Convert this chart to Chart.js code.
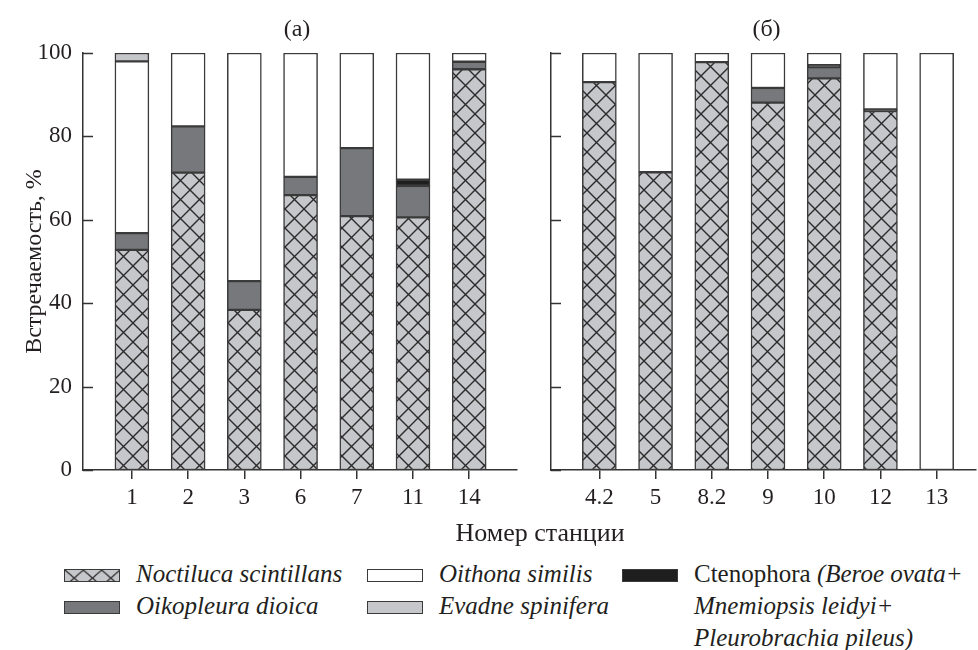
<!DOCTYPE html>
<html><head><meta charset="utf-8">
<script src="https://cdn.jsdelivr.net/npm/chart.js@4.4.1/dist/chart.umd.min.js"></script>
<style>
body{margin:0;background:#fff;width:978px;height:650px;overflow:hidden;position:relative;font-family:'Liberation Serif','Times New Roman',serif;color:#231f20}
canvas{position:absolute;top:0}
#ca{left:0}
#cb{left:530px}
#xtitle{position:absolute;left:0;width:1080px;top:518px;text-align:center;font-size:26px;line-height:30px}
.col{position:absolute;top:558px;font-size:25px;line-height:32px}
.item{position:relative;height:32px;white-space:nowrap}
.sw{position:absolute;left:0;top:11px;width:56px;height:13px;box-sizing:border-box;border:1.5px solid #3a3a3a}
.tx{position:absolute;left:72px;top:0}
i{font-style:italic}
</style>
</head><body>
<canvas id="ca" width="530" height="520"></canvas>
<canvas id="cb" width="448" height="520"></canvas>
<div id="xtitle">Номер станции</div>
<div id="legend"></div>
<script>
// ---- data ----
const stationsA = ['1','2','3','6','7','11','14'];
const stationsB = ['4.2','5','8.2','9','10','12','13'];
const seriesNames = ['Noctiluca scintillans','Oikopleura dioica','Ctenophora','Oithona similis','Evadne spinifera'];
// Panel (а)
const noctA = [52.8, 71.3, 38.4, 65.9, 60.9, 60.6, 96.1];
const oikoA = [4.0, 11.1, 6.9, 4.4, 16.3, 7.5, 1.8];
const ctenA = [0, 0, 0, 0, 0, 1.5, 0];
const oithA = [41.2, 17.6, 54.7, 29.7, 22.8, 30.4, 2.1];
const evadA = [2.0, 0, 0, 0, 0, 0, 0];
// Panel (б)
const noctB = [93.0, 71.4, 97.8, 88.1, 93.9, 86.1, 0];
const oikoB = [0, 0, 0, 3.5, 2.7, 0, 0];
const ctenB = [0, 0, 0, 0, 0.5, 0.4, 0];
const oithB = [7.0, 28.6, 2.2, 8.4, 2.9, 13.5, 100];
const evadB = [0, 0, 0, 0, 0, 0, 0];
const yTicks = [0, 20, 40, 60, 80, 100];

const FONT = "'Liberation Serif', 'Times New Roman', serif";
Chart.defaults.font.family = FONT;
Chart.defaults.color = '#231f20';

function hatch(){
  const s = 19, c = document.createElement('canvas');
  c.width = s; c.height = s;
  const g = c.getContext('2d');
  g.fillStyle = '#c6c7ca'; g.fillRect(0,0,s,s);
  g.strokeStyle = '#2b2b2b'; g.lineWidth = 1.4;
  g.beginPath();
  g.moveTo(-2,-2); g.lineTo(s+2,s+2);
  g.moveTo(s+2,-2); g.lineTo(-2,s+2);
  g.stroke();
  return g.createPattern(c,'repeat');
}
const fills = [hatch(), '#77787b', '#1e1e1e', '#ffffff', '#c6c7ca'];

const inwardTicks = {
  id: 'inwardTicks',
  afterDraw(chart){
    const {ctx, chartArea: a, scales: {y}} = chart;
    ctx.save(); ctx.strokeStyle = '#333'; ctx.lineWidth = 1.5;
    y.ticks.forEach(t => {
      const py = Math.round(y.getPixelForValue(t.value)) + 0.5;
      ctx.beginPath(); ctx.moveTo(a.left, py); ctx.lineTo(a.left + 10, py); ctx.stroke();
    });
    ctx.restore();
  }
};
const panelTitle = {
  id: 'panelTitle',
  afterDraw(chart, args, o){
    const {ctx, chartArea: a} = chart;
    ctx.save(); ctx.font = '24px ' + FONT; ctx.fillStyle = '#231f20';
    ctx.textAlign = 'center'; ctx.textBaseline = 'alphabetic';
    ctx.fillText(o.text, (a.left + a.right) / 2 + o.dx, 36);
    ctx.restore();
  }
};

function makePanel(id, labels, cols, o){
  const datasets = cols.map((vals, k) => ({
    label: seriesNames[k],
    data: vals.map((v, i) => ({x: i + 1, y: v > 0 ? v : null})),
    backgroundColor: fills[k],
    borderColor: '#3a3a3a',
    borderWidth: 1.5,
    borderSkipped: false,
    barThickness: 34
  }));
  return new Chart(document.getElementById(id), {
    type: 'bar',
    data: {datasets},
    plugins: [inwardTicks, panelTitle],
    options: {
      responsive: false, animation: false,
      layout: {padding: {left: 0, right: o.padRight, top: 53, bottom: 0}},
      plugins: {legend: {display: false}, tooltip: {enabled: false}, panelTitle: {text: o.title, dx: o.dx}},
      scales: {
        x: {
          type: 'linear', stacked: true, offset: false, min: o.xmin, max: o.xmax,
          afterBuildTicks: s => { s.ticks = labels.map((_, i) => ({value: i + 1})); },
          afterFit: s => { s.height = 50; },
          ticks: {callback: v => labels[v - 1] ?? '', autoSkip: false, maxRotation: 0, padding: 5,
                  font: {size: 23}, color: '#231f20'},
          grid: {display: true, offset: false, drawOnChartArea: false, drawTicks: true, tickLength: 9, color: '#333', lineWidth: 1.5},
          border: {display: true, color: '#333', width: 1.5}
        },
        y: {
          stacked: true, min: 0, max: 100,
          afterBuildTicks: s => { s.ticks = yTicks.map(v => ({value: v})); },
          afterFit: s => { s.width = o.yWidth; },
          ticks: {display: true, callback: v => o.yLabels ? String(v) : '', padding: 11, font: {size: 23}, color: '#231f20'},
          grid: {display: false, drawTicks: false},
          border: {display: true, color: '#333', width: 1.5},
          title: {display: !!o.yTitle, text: o.yTitle || '', font: {size: 24}, color: '#231f20', padding: {top: 20, bottom: 0}}
        }
      }
    }
  });
}

function build(){
  makePanel('ca', stationsA, [noctA, oikoA, ctenA, oithA, evadA],
    {title: '(а)', dx: -3, padRight: 13, xmin: 0.13, xmax: 7.85, yWidth: 83, yLabels: true, yTitle: 'Встречаемость, %'});
  makePanel('cb', stationsB, [noctB, oikoB, ctenB, oithB, evadB],
    {title: '(б)', dx: 3, padRight: 2, xmin: 0.14, xmax: 7.7, yWidth: 21, yLabels: false});
}

// ---- legend (HTML text) ----
const leg = document.getElementById('legend');
const layout = [
  {left: 64, items: [[0, '<i>Noctiluca scintillans</i>'], [1, '<i>Oikopleura dioica</i>']]},
  {left: 367, items: [[3, '<i>Oithona similis</i>'], [4, '<i>Evadne spinifera</i>']]},
  {left: 622, items: [[2, 'Ctenophora <i>(Beroe ovata+</i>'], [-1, '<i>Mnemiopsis leidyi+</i>'], [-1, '<i>Pleurobrachia pileus)</i>']]}
];
layout.forEach(col => {
  const d = document.createElement('div'); d.className = 'col'; d.style.left = col.left + 'px';
  col.items.forEach(([k, html]) => {
    const it = document.createElement('div'); it.className = 'item';
    if (k >= 0) {
      const sw = document.createElement('canvas'); sw.className = 'sw'; sw.width = 56; sw.height = 13;
      const g = sw.getContext('2d');
      g.fillStyle = k === 0 ? hatch() : fills[k];
      g.fillRect(0, 0, 56, 13);
      it.appendChild(sw);
    }
    const t = document.createElement('span'); t.className = 'tx'; t.innerHTML = html;
    it.appendChild(t); d.appendChild(it);
  });
  leg.appendChild(d);
});

if (document.fonts && document.fonts.load) {
  Promise.all([document.fonts.load('23px ' + FONT), document.fonts.load('italic 23px ' + FONT)])
    .then(build, build);
} else { build(); }
</script>
</body></html>
